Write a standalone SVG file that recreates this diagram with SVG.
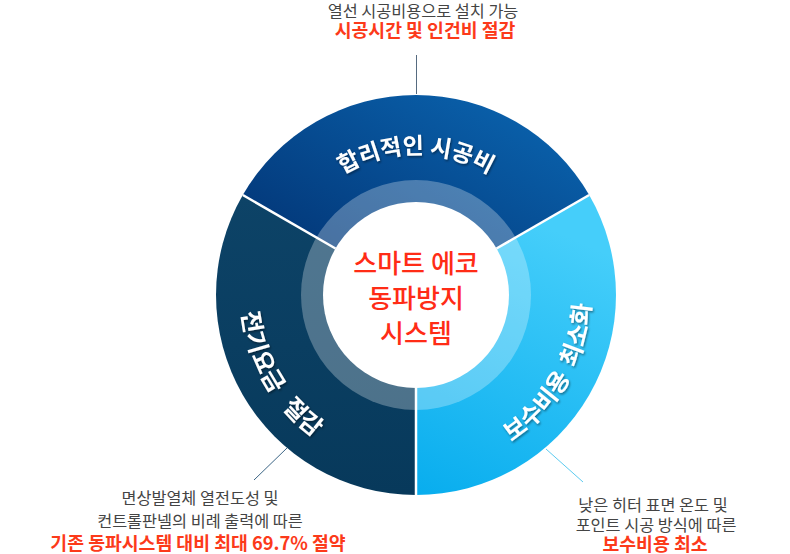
<svg xmlns="http://www.w3.org/2000/svg" width="790" height="554" viewBox="0 0 790 554">
<style>
.lbl{font-family:"Noto Sans CJK KR","Noto Sans",sans-serif;font-size:23px;font-weight:700;fill:#fff}
.ctr{font-family:"Noto Sans CJK KR","Noto Sans",sans-serif;font-size:26px;font-weight:500;fill:#ff2c16;text-anchor:middle}
.note{font-family:"Noto Sans CJK KR","Noto Sans",sans-serif;font-size:16.3px;fill:#444;text-anchor:middle}
.hi{font-family:"Noto Sans CJK KR","Noto Sans",sans-serif;font-size:18.3px;font-weight:700;fill:#fc3a1a;text-anchor:middle}
.div{stroke:#fff;stroke-width:2.5}
.ptr{fill:none;stroke-width:1}
</style>
<defs>
<linearGradient id="gTop" x1="0" y1="1" x2="1" y2="0">
<stop offset="0" stop-color="#012d6c"/>
<stop offset="1" stop-color="#0b68b4"/>
</linearGradient>
<linearGradient id="gLeft" x1="0" y1="0" x2="0" y2="1">
<stop offset="0" stop-color="#0d4367"/>
<stop offset="1" stop-color="#07395b"/>
</linearGradient>
<linearGradient id="gRight" x1="0.3" y1="0" x2="0" y2="1">
<stop offset="0" stop-color="#45cefa"/>
<stop offset="1" stop-color="#08adee"/>
</linearGradient>
<filter id="sh" x="-10%" y="-10%" width="120%" height="120%">
<feDropShadow dx="1" dy="1.5" stdDeviation="1" flood-color="#000" flood-opacity="0.45"/>
</filter>
<path id="pTop" d="M293.9,224.5 A141,141 0 0 1 538.1,224.5"/>
<path id="pLeft" d="M264.4,207.5 A175,175 0 0 0 416,470"/>
<path id="pRight" d="M416,470 A175,175 0 0 0 567.6,207.5"/>
</defs>

<g id="connectors">
<line class="ptr" x1="416.5" y1="55" x2="416.5" y2="94" stroke="#566b80"/>
<line class="ptr" x1="287" y1="448" x2="254" y2="480" stroke="#3c6585"/>
<line class="ptr" x1="546" y1="449" x2="583" y2="482" stroke="#5ccbf0"/>
</g>

<g id="node-top">
<path d="M416,295 L242.8,195 A200,200 0 0 1 589.2,195 Z" fill="url(#gTop)"/>
<text class="lbl" filter="url(#sh)"><textPath href="#pTop" startOffset="50%" text-anchor="middle">합리적인 시공비</textPath></text>
<text class="note" x="423" y="16.5">열선 시공비용으로 설치 가능</text>
<text class="hi" x="425" y="37">시공시간 및 인건비 절감</text>
</g>

<g id="node-right">
<path d="M416,295 L589.2,195 A200,200 0 0 1 416,495 Z" fill="url(#gRight)"/>
<text class="lbl" filter="url(#sh)" style="font-size:24px;word-spacing:5px"><textPath href="#pRight" startOffset="50%" text-anchor="middle">보수비용 최소화</textPath></text>
<text class="note" x="653" y="511">낮은 히터 표면 온도 및</text>
<text class="note" x="656" y="531">포인트 시공 방식에 따른</text>
<text class="hi" x="655" y="551">보수비용 최소</text>
</g>

<g id="node-left">
<path d="M416,295 L416,495 A200,200 0 0 1 242.8,195 Z" fill="url(#gLeft)"/>
<text class="lbl" filter="url(#sh)" style="font-size:24px;word-spacing:11px"><textPath href="#pLeft" startOffset="50%" text-anchor="middle">전기요금 절감</textPath></text>
<text class="note" x="200" y="504">면상발열체 열전도성 및</text>
<text class="note" x="200" y="527">컨트롤판넬의 비례 출력에 따른</text>
<text class="hi" x="198" y="549.5">기존 동파시스템 대비 최대 69.7% 절약</text>
</g>

<g id="node-center">
<circle cx="416" cy="295" r="115" fill="#fff" fill-opacity="0.28"/>
<circle cx="416" cy="295" r="93" fill="#fff"/>
<line class="div" x1="335.5" y1="248.5" x2="242.8" y2="195"/>
<line class="div" x1="496.5" y1="248.5" x2="589.2" y2="195"/>
<line class="div" x1="416" y1="388" x2="416" y2="495"/>
<text class="ctr" x="416" y="273">스마트 에코</text>
<text class="ctr" x="416" y="308">동파방지</text>
<text class="ctr" x="416" y="343">시스템</text>
</g>
</svg>
